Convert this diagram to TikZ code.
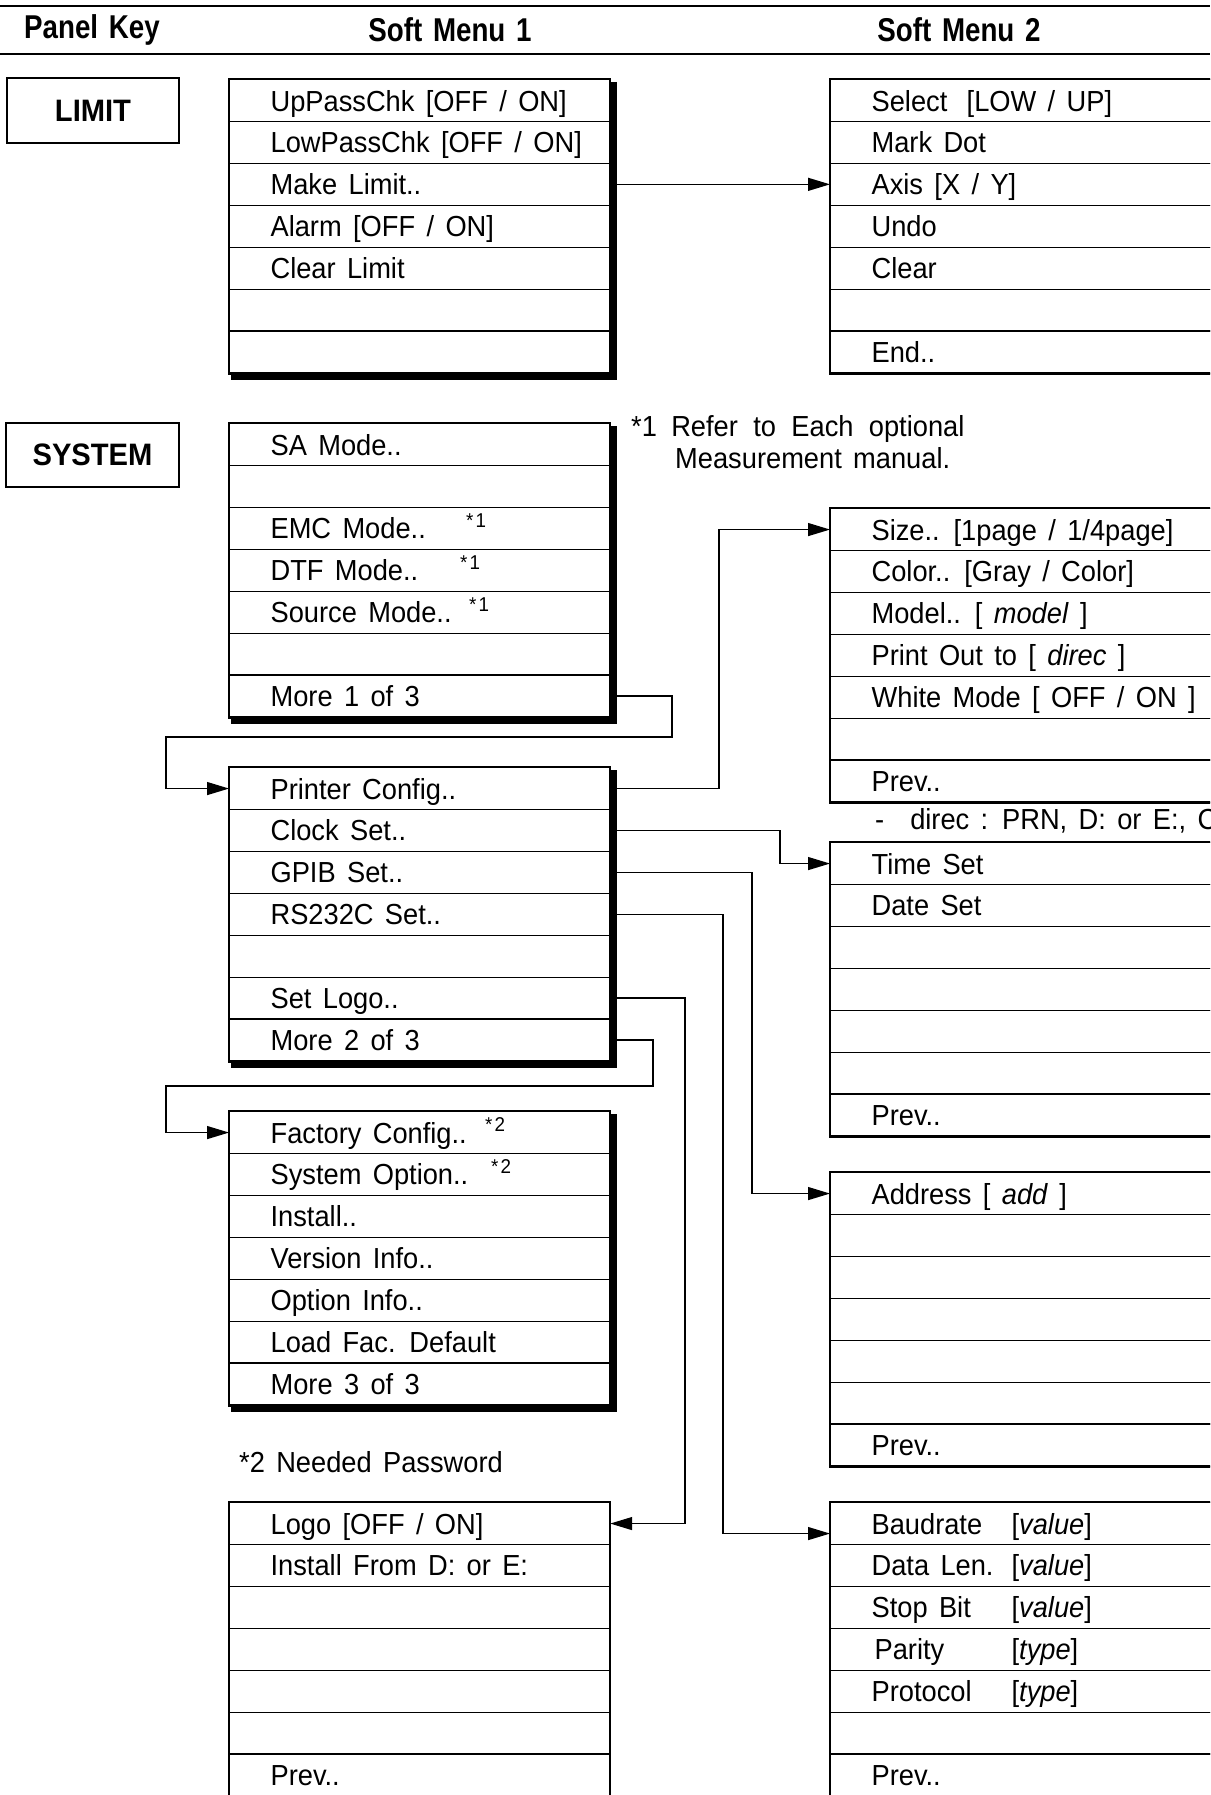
\documentclass[tikz,border=0pt]{standalone}
\usepackage{fontspec}
\setmainfont{Liberation Sans}[FakeStretch=0.94,WordSpace=1.5]
\newfontfamily\headfont{Liberation Sans}[FakeStretch=0.84,WordSpace=1.4]
\usetikzlibrary{arrows.meta,calc}
\newcommand\mkmenu[5]{%
  \foreach \mt [count=\i] in {#5} {%
    \node[rowbox, minimum width=#4pt] (#1-\i) at (#2,{#3+(\i-1)*41.9}) {\hspace*{41pt}\makebox[\dimexpr #4pt-41pt\relax][l]{\mt}};
  }%
  \draw[framebox] (#1-1.north west) rectangle (#1-7.south east);
}
\newcommand\mkshadow[1]{%
  \draw[shadowline] ([shift={(3.2pt,-3pt)}]#1-1.north east) -- ([shift={(3.2pt,-3.5pt)}]#1-7.south east) -- ([shift={(2pt,-3.5pt)}]#1-7.south west);
}
\begin{document}
\begin{tikzpicture}[x=1pt,y=-1pt,
  font=\fontsize{29}{34}\selectfont,
  rowbox/.style={draw, line width=1.2pt, anchor=north west, minimum height=41.9pt, inner sep=0pt, text height=21pt, text depth=0pt},
  framebox/.style={line width=2pt},
  shadowline/.style={line width=6.5pt, line join=miter},
  conn/.style={line width=1.3pt, -{Triangle[length=22pt,width=13pt]}},
  keybox/.style={draw, line width=2pt, inner sep=0pt, font=\fontsize{31}{36}\selectfont\bfseries},
  head/.style={font=\headfont\fontsize{33}{38}\selectfont\bfseries},
  note/.style={anchor=base west, inner sep=0pt},
  supmark/.style={anchor=base west, inner sep=0pt, font=\fontsize{20}{20}\selectfont},
]
\path[use as bounding box] (0,0) rectangle (1210,1795);
\clip (0,0) rectangle (1210,1795);

% header rules
\draw[line width=1.5pt] (0,6) -- (1210,6);
\draw[line width=1.5pt] (0,54) -- (1210,54);
\node[head] (hpk) at (92,30) {Panel Key};
\node[head] (hsm1) at (450,30) {Soft Menu 1};
\node[head] (hsm2) at (959,30) {Soft Menu 2};

% panel keys
\node[keybox, minimum width=172pt, minimum height=65pt] (limit) at (93,110.5) {LIMIT};
\node[keybox, minimum width=173pt, minimum height=64pt] (system) at (92.5,455) {SYSTEM};

% menus
\mkmenu{la}{229}{79}{380}{{UpPassChk [OFF / ON]},{LowPassChk [OFF / ON]},{Make Limit..},{Alarm [OFF / ON]},{Clear Limit},{},{}}
\mkshadow{la}
\mkmenu{lb}{830}{79}{420}{{Select \hspace{8pt}[LOW / UP]},{Mark Dot},{Axis [X / Y]},{Undo},{Clear},{},{End..}}

\mkmenu{sa}{229}{423}{380}{{SA Mode..},{},{EMC Mode..},{DTF Mode..},{Source Mode..},{},{More 1 of 3}}
\mkshadow{sa}
\mkmenu{pr}{830}{508}{420}{{Size.. [1page / 1/4page]},{Color.. [Gray / Color]},{Model.. [ \textit{model} ]},{Print Out to [ \textit{direc} ]},{White Mode [ OFF / ON ]},{},{Prev..}}
\mkmenu{sb}{229}{767}{380}{{Printer Config..},{Clock Set..},{GPIB Set..},{RS232C Set..},{},{Set Logo..},{More 2 of 3}}
\mkshadow{sb}
\mkmenu{tm}{830}{842}{420}{{Time Set},{Date Set},{},{},{},{},{Prev..}}
\mkmenu{sc}{229}{1111}{380}{{Factory Config..},{System Option..},{Install..},{Version Info..},{Option Info..},{Load Fac. Default},{More 3 of 3}}
\mkshadow{sc}
\mkmenu{ad}{830}{1172}{420}{{Address [ \textit{add} ]},{},{},{},{},{},{Prev..}}
\mkmenu{lg}{229}{1502}{380}{{Logo [OFF / ON]},{Install From D: or E:},{},{},{},{},{Prev..}}
\mkmenu{bd}{830}{1502}{420}{{\makebox[140pt][l]{Baudrate}[\textit{value}]},{\makebox[140pt][l]{Data Len.}[\textit{value}]},{\makebox[140pt][l]{Stop Bit}[\textit{value}]},{\makebox[140pt][l]{\hspace{3pt}Parity}[\textit{type}]},{\makebox[140pt][l]{Protocol}[\textit{type}]},{},{Prev..}}

% superscript marks
\node[supmark] (emc1) at (466,527) {*\hspace{2pt}1};
\node[supmark] (dtf1) at (460,569) {*\hspace{2pt}1};
\node[supmark] (src1) at (469,611) {*\hspace{2pt}1};
\node[supmark] (fac2) at (485,1131) {*\hspace{2pt}2};
\node[supmark] (sys2) at (491,1173) {*\hspace{2pt}2};

% notes
\node[note] (n1a) at (631,436) {*1 \hspace{3pt}Refer \hspace{4pt}to \hspace{4pt}Each \hspace{4pt}optional};
\node[note] (n1b) at (675,468) {Measurement manual.};
\node[note] (ndir) at (875,829) {-\hspace{26pt}direc : PRN, D: or E:, C:};
\node[note] (n2) at (239,1472) {*2 Needed Password};

% connectors
\draw[conn] ([xshift=6pt]la-3.east) -- (lb-3.west);

\coordinate (m1a) at (672,737);
\coordinate (m1b) at (166,737);
\draw[conn] ([xshift=6pt]sa-7.east) -| (m1a) -- (m1b) |- (sb-1.west);

\coordinate (xpr) at (719,0);
\draw[conn] ([xshift=6pt]sb-1.east) -| (xpr |- pr-1.west) -- (pr-1.west);
\coordinate (xtm) at (780,0);
\draw[conn] ([xshift=6pt]sb-2.east) -| (xtm |- tm-1.west) -- (tm-1.west);
\coordinate (xad) at (752,0);
\draw[conn] ([xshift=6pt]sb-3.east) -| (xad |- ad-1.west) -- (ad-1.west);
\coordinate (xbd) at (723,0);
\coordinate (bdin) at ([yshift=-10pt]bd-1.west);
\draw[conn] ([xshift=6pt]sb-4.east) -| (xbd |- bdin) -- (bdin);
\coordinate (xlg) at (685,0);
\draw[conn] ([xshift=6pt]sb-6.east) -| (xlg |- lg-1.east) -- (lg-1.east);

\coordinate (m2a) at (653,1086);
\coordinate (m2b) at (166,1086);
\draw[conn] ([xshift=6pt]sb-7.east) -| (m2a) -- (m2b) |- (sc-1.west);
\end{tikzpicture}
\end{document}
